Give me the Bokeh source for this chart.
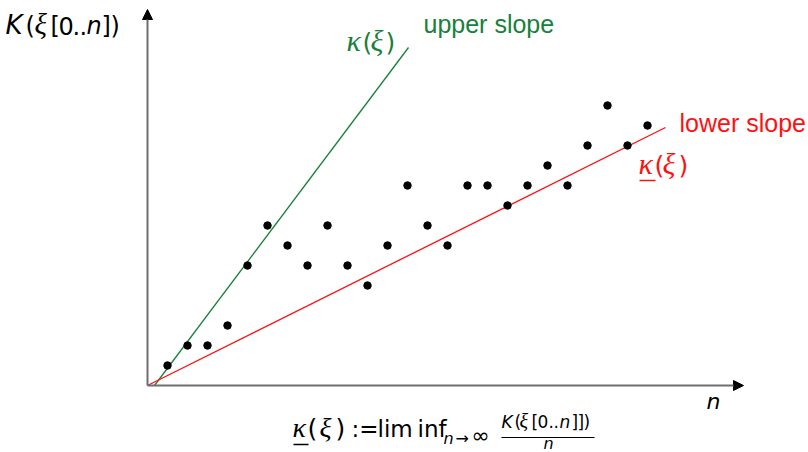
from bokeh.plotting import figure
from bokeh.models import Range1d, Arrow, NormalHead, Label, ColumnDataSource
from bokeh.embed import file_html
from bokeh.resources import INLINE

# ---------------- data ----------------
n_values = [1, 2, 3, 4, 5, 6, 7, 8, 9, 10, 11, 12, 13, 14, 15, 16, 17, 18, 19, 20, 21, 22, 23, 24, 25]
K_values = [1, 2, 2, 3, 6, 8, 7, 6, 8, 6, 5, 7, 10, 8, 7, 10, 10, 9, 10, 11, 10, 12, 14, 12, 13]
upper_n = [0.35, 13.05]
upper_K = [0.0, 16.9]
lower_n = [0.0, 25.9]
lower_K = [0.0, 12.9]
x_axis_end = 29.8
y_axis_end = 18.8

GREEN = "#17803a"
RED = "#ff1010"
AXIS = "#6e6e6e"
SANS = "DejaVu Sans"
SERIF = "Liberation Serif"

# pixel <-> data helpers (20 px per unit, origin at page pixel (147, 385))
OX, OY, S = 147.0, 385.0, 20.0
def dx(X):
    return (X - OX) / S
def dy(Y):
    return (OY - Y) / S

W, H = 808, 452
p = figure(width=W, height=H, output_backend="svg", toolbar_location=None,
           x_range=Range1d(dx(0), dx(W)), y_range=Range1d(dy(H), dy(0)),
           x_axis_type=None, y_axis_type=None, min_border=0)
p.outline_line_color = None
p.xgrid.visible = False
p.ygrid.visible = False
p.background_fill_color = "white"
p.border_fill_color = "white"

# axes with arrows
p.add_layout(Arrow(x_start=0, y_start=0, x_end=x_axis_end, y_end=0,
                   line_color=AXIS, line_width=2,
                   end=NormalHead(size=10, fill_color="black", line_color="black")))
p.add_layout(Arrow(x_start=0, y_start=0, x_end=0, y_end=y_axis_end,
                   line_color=AXIS, line_width=2,
                   end=NormalHead(size=10, fill_color="black", line_color="black")))

# slope lines
p.line(upper_n, upper_K, line_color=GREEN, line_width=1.3)
p.line(lower_n, lower_K, line_color=RED, line_width=1.3)

# points
src = ColumnDataSource(dict(n=n_values, K=K_values))
p.scatter("n", "K", source=src, size=7.5, fill_color="black", line_color="black")

def L(text, X, Y, size, color="black", style="normal", font=SANS, align="left"):
    # Y is the wanted baseline in page pixels; labels sit a bit low, so lift them
    Yb = Y - 0.4 * size
    p.add_layout(Label(x=dx(X), y=dy(Yb), text=text, text_font=font,
                       text_font_size=f"{size}px", text_color=color,
                       text_font_style=style, text_align=align,
                       text_baseline="alphabetic"))

def run(pieces, Y, size, color="black"):
    for item in pieces:
        text, X, kind = item[:3]
        sz = item[3] if len(item) > 3 else size
        if kind == "m":      # math italic letter
            L(text, X, Y, round(sz * 1.2), color, "italic", SERIF)
        elif kind == "i":
            L(text, X, Y, sz, color, "italic", SANS)
        else:
            L(text, X, Y, sz, color, "normal", SANS)

def U(X1, X2, Y, color, width=1.5):
    p.segment(x0=[dx(X1)], y0=[dy(Y)], x1=[dx(X2)], y1=[dy(Y)],
              line_color=color, line_width=width)

# y-axis label  K(ξ[0..n])
run([("K", 5, "i", 26), ("(", 25, "n"), ("ξ", 34, "m"), ("[", 50, "n"), ("0", 58, "n"),
     (".", 72, "n"), (".", 79, "n"), ("n", 86, "i"), ("]", 101, "n"), (")", 110, "n")],
    35, 24)

# x-axis label
L("n", 706, 410, 22, style="italic")

# upper slope annotations
L("upper slope", 423, 33, 25, color=GREEN, font="Liberation Sans")
run([("κ", 346, "m"), ("(", 362, "n"), ("ξ", 370, "m"), (")", 385, "n")], 52, 25, GREEN)

# lower slope annotations
L("lower slope", 679, 132, 25, color=RED, font="Liberation Sans")
run([("κ", 638, "m"), ("(", 654, "n"), ("ξ", 662, "m"), (")", 678, "n")], 175, 25, RED)
U(639, 655, 180, RED)

# bottom formula
run([("κ", 292, "m"), ("(", 307, "n", 25), ("ξ", 319, "m"), (")", 335, "n", 25),
     (":=", 351, "n"), ("lim", 377, "n"), ("inf", 417, "n")], 438, 23)
U(293, 308, 444, "black")
run([("n", 443, "i"), ("→", 455, "n"), ("∞", 471, "n", 22)], 444, 16)
# fraction
run([("K", 501, "i"), ("(", 514, "n"), ("ξ", 519, "m"), ("[", 531, "n"), ("0", 537, "n"),
     (".", 548, "n"), (".", 553, "n"), ("n", 559, "i"), ("]", 571, "n"), ("]", 577, "n"),
     (")", 583, "n")], 428, 17)
U(501, 594, 437, "black", 1.2)
L("n", 548, 449, 16, style="italic", align="center")

open("out.html", "w").write(file_html(p, INLINE))
